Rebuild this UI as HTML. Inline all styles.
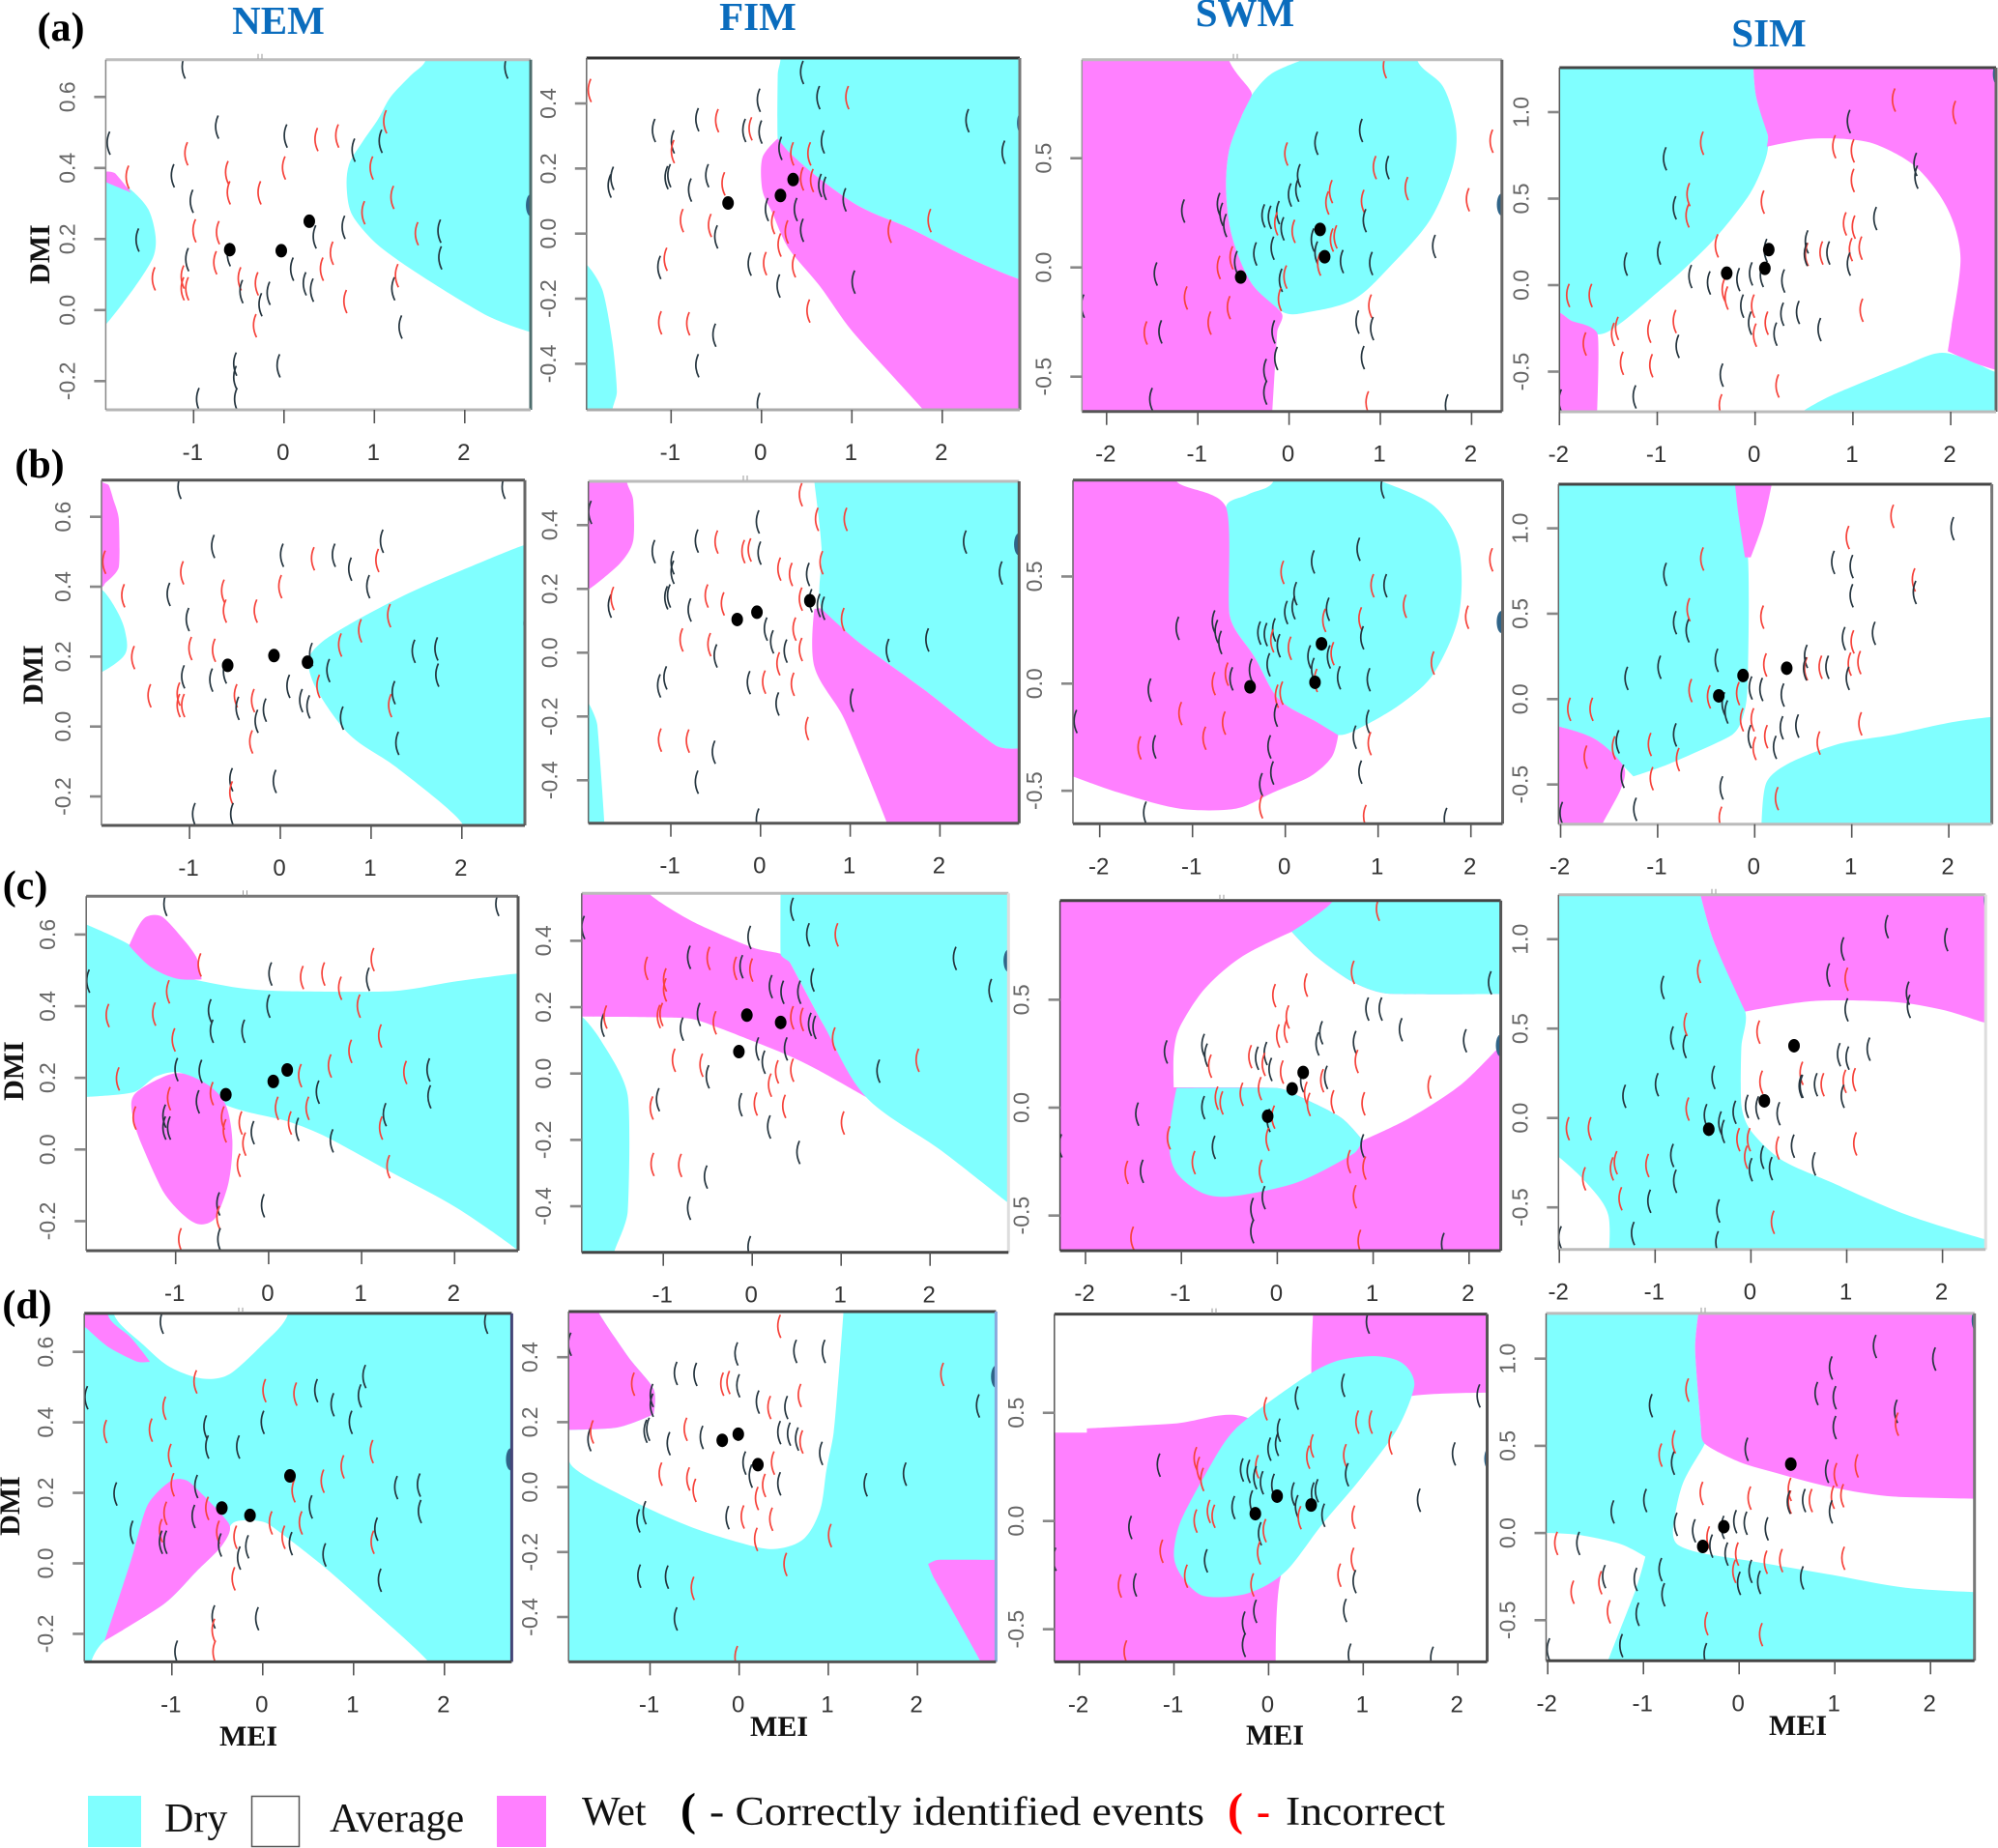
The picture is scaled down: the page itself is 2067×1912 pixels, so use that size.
<!DOCTYPE html>
<html>
<head>
<meta charset="utf-8">
<title>Dry, average and wet classification maps by MEI and DMI</title>
<style>
html,body{margin:0;padding:0;background:#fff;width:2067px;height:1912px;overflow:hidden}
svg{display:block}
.tick{font-family:"Liberation Sans",sans-serif;font-size:24px;fill:#333}
.ytick{font-family:"Liberation Sans",sans-serif;font-size:23px;fill:#666}
.axt{font-family:"Liberation Serif",serif;font-weight:bold;font-size:30px;fill:#111}
.col{font-family:"Liberation Serif",serif;font-weight:bold;font-size:41px;fill:#0a6cbd}
.row{font-family:"Liberation Serif",serif;font-weight:bold;font-size:42px;fill:#000}
.leg{font-family:"Liberation Serif",serif;font-size:42px;fill:#111}
</style>
</head>
<body>
<svg id="figure" xmlns="http://www.w3.org/2000/svg" width="2067" height="1912" viewBox="0 0 2067 1912">
  <rect width="2067" height="1912" fill="#fff"/>
  <text class="col" x="288" y="35" text-anchor="middle">NEM</text>
  <text class="col" x="784" y="31" text-anchor="middle">FIM</text>
  <text class="col" x="1288" y="27" text-anchor="middle">SWM</text>
  <text class="col" x="1830" y="48" text-anchor="middle">SIM</text>
  <text class="row" x="63" y="42" text-anchor="middle">(a)</text>
  <text class="row" x="41" y="494" text-anchor="middle">(b)</text>
  <text class="row" x="26" y="930" text-anchor="middle">(c)</text>
  <text class="row" x="28" y="1364" text-anchor="middle">(d)</text>
  <text class="axt" text-anchor="middle" transform="translate(51 263) rotate(-90)">DMI</text>
  <text class="axt" text-anchor="middle" transform="translate(44 698) rotate(-90)">DMI</text>
  <text class="axt" text-anchor="middle" transform="translate(24 1108) rotate(-90)">DMI</text>
  <text class="axt" text-anchor="middle" transform="translate(20 1558) rotate(-90)">DMI</text>
  <text class="axt" x="257" y="1806" text-anchor="middle">MEI</text>
  <text class="axt" x="806" y="1796" text-anchor="middle">MEI</text>
  <text class="axt" x="1319" y="1805" text-anchor="middle">MEI</text>
  <text class="axt" x="1860" y="1795" text-anchor="middle">MEI</text>
  <g id="panels"></g>
  <g>
    <rect x="91" y="1858" width="55" height="53" fill="#80ffff"/>
    <text class="leg" x="170" y="1895">Dry</text>
    <rect x="260.500" y="1858.500" width="49" height="52" fill="#fff" stroke="#555" stroke-width="1.500"/>
    <text class="leg" x="341" y="1895">Average</text>
    <rect x="514" y="1858" width="51" height="53" fill="#ff80ff"/>
    <text class="leg" x="602" y="1888">Wet</text>
    <text class="leg" x="704" y="1888" style="font-size:48px;font-weight:bold;fill:#000">(</text>
    <text class="leg" x="734" y="1888" textLength="512" lengthAdjust="spacingAndGlyphs">- Correctly identified events</text>
    <text class="leg" x="1270" y="1888" style="font-size:48px;font-weight:bold;fill:#f00">(</text>
    <text class="leg" x="1300" y="1888" style="font-weight:bold;fill:#f00">-</text>
    <text class="leg" x="1330" y="1888" textLength="165" lengthAdjust="spacingAndGlyphs">Incorrect</text>
  </g>
</svg>
<script>
// ---------- event values: MEI and DMI per season ----------
const nemMei = [-1.12,2.45,-.75,-1.95,.01,.35,.58,1.11,1.06,.76,-1.09,-.01,.96,-1.74,-1.24,-.64,-.62,-.28,-1.03,1.19,.87,-1.0,-.74,-1.63,.65,.33,1.46,1.71,1.72,.52,-1.08,-.77,-.62,.08,.41,-1.45,-1.13,-1.08,-1.13,-.5,-.48,-.31,-.18,-.27,.22,.3,1.2,1.24,.67,-.33,1.28,-.55,-.07,-.55,-.96,-.54];
const nemDmi = [.684,.684,.515,.47,.49,.48,.49,.53,.475,.45,.44,.40,.40,.374,.378,.387,.33,.33,.306,.317,.274,.223,.218,.197,.233,.206,.215,.222,.147,.16,.142,.133,.156,.115,.115,.088,.093,.06,.06,.088,.052,.074,.047,.015,.074,.056,.06,.097,.024,-.044,-.048,-.152,-.157,-.19,-.252,-.252];
const fimMei = [-1.91,.44,.62,.94,-.04,2.27,-.72,-.5,-1.2,-.99,-.99,-.2,-.13,-.02,.67,2.67,.2,.33,.52,-1.69,-1.03,-1.06,-.61,-.43,-.8,.44,.55,.64,.69,.91,.05,.12,.37,-.89,-.58,-.51,.27,.44,.19,1.41,1.85,-1.07,-1.14,-.14,.03,.35,.18,1.01,.51,-1.13,-.82,-.53,-.72,-.04,-1.66];
const fimDmi = [.44,.495,.418,.418,.41,.347,.35,.347,.317,.282,.252,.317,.322,.312,.282,.25,.262,.245,.245,.146,.178,.172,.178,.153,.134,.168,.163,.148,.139,.104,.074,.034,.074,.04,.025,-.01,.005,.01,-.035,.007,.04,-.079,-.104,-.094,-.092,-.099,-.161,-.149,-.238,-.274,-.277,-.312,-.406,-.525,.17];
const swmMei = [1.04,2.21,.78,.29,-.04,.93,1.07,.1,1.28,1.95,.08,0,.45,.41,.8,.82,-1.17,-.78,-.75,-.71,-.29,-.22,-.13,-.08,.04,-.15,.25,.5,.46,-.38,-.19,.29,.32,.57,.89,1.58,-.64,-.59,-1.47,-.78,-.05,-.1,-1.14,-.67,-.11,-2.27,.88,-.88,-1.58,-1.42,-.18,.74,.9,-.15,.8,-.27,-.27,-1.52,.85,1.72];
const swmDmi = [.919,.578,.627,.568,.519,.457,.457,.42,.361,.31,.354,.332,.347,.295,.302,.214,.258,.288,.243,.192,.236,.229,.251,.177,.165,.2,.125,.14,.125,.062,.088,.066,.015,.027,.018,.096,.044,.022,-.03,0,-.044,-.059,-.14,-.184,-.147,-.177,-.177,-.255,-.3,-.295,-.295,-.25,-.28,-.417,-.413,-.472,-.575,-.605,-.62,-.634];
const simMei = [1.41,2.03,.95,-.55,-.93,.8,.99,1.63,1.64,.99,-.69,.07,-.83,-.7,1.22,.91,1,-.4,-.99,-1.33,.52,.52,.51,.67,.74,.97,1.07,.95,-.67,-.48,-.18,-.05,.06,.28,-.33,-.3,-.14,-.03,.27,.43,1.08,-.06,.11,-.01,.2,.65,-.83,-1.09,-1.42,-1.46,-1.92,-1.69,-1.75,-.8,-1.37,-1.07,-.35,.22,-1.24,-.36,-2,.1];
const simDmi = [1.07,.998,.946,.82,.73,.8,.776,.698,.624,.605,.523,.48,.447,.4,.385,.354,.335,.227,.186,.121,.25,.177,.177,.186,.186,.205,.214,.121,.05,.013,.032,.065,.056,.024,-.028,-.075,-.121,-.121,-.168,-.158,-.145,-.22,-.22,-.289,-.283,-.257,-.21,-.266,-.25,-.285,-.06,-.06,-.34,-.354,-.452,-.466,-.52,-.583,-.646,-.698,-.67,.2];

// ---------- outcome per event: k = correctly identified, r = incorrect ----------
const nemOutcomeA = "kkkkkrrrkkrrrrkrrrkrrrrkkkrkkrkrkkrrrrrrkrkkkkkrrrkkkkkk";
const nemOutcomeB = "kkkrkrkkrkrrkrkrrrkrrrrrrkkkkkkkkkrrrrrrkrkkkkrkkrkkkrkk";
const nemOutcomeC = "kkrkkrrrkrrkrrrkkkrrrkkrrrrkkkrkrrrrkkkrrrkrrkrkkrrkkrrk";
const nemOutcomeD = "kkrkrrkkkkrkkrrkkkrrrrkkrrkkkkrkrrrkrkkrkrkkrkrkkrkkkrkr";
const fimOutcomeA = "rkkrkkkrkkrkrkkkkrrkkkkrkrrkkkkrkrrkrkrrrrkkrrkkrrrkkkk";
const fimOutcomeB = "krrrkkkrkkkrrkrkrrkkkkrrkrkkkrkkrrrkkrrkkkkkrrkkrrrkkkr";
const fimOutcomeC = "kkkrkkkrrrrrkrkkkkkkrrkrkrrkkrkkkrrkrrrkrkrkrrkrkrrkkkr";
const fimOutcomeD = "krkkkrkkrkkrrkrkkrkkkkrkkkkkrkkkrrrrrkrkkkkkrrrrrkkrkrr";
const swmOutcomeA = "rrkkrrkkrrkkrrrkkkkkkkkkrrkrrkkkrkkkrkkrrkrrrkrrrkkkkkkkkkrk";
const swmOutcomeB = "krkkrrkkrrkkkrrkkkkkkkkkrrkrkkkkrkkrrkkrrrrrkkkrrkkkrkkkrkrk";
const swmOutcomeC = "rkrrrkkrkkrrkkkrkkkrrkkkrrkkrrrrrrrrrrkkrkrkrkkrrkrrrkrkkrrk";
const swmOutcomeD = "kkkkrrrkrkkkrrrkkrrrkkrkkkkkkkkkrkrkrrkrrkrkrkrrrkrrkkkkkrkk";
const simOutcomeA = "rrkrkrrkkrrrkrkrrrkkkrkrkrrkkkkkkkrrkrkkrkrrkkrrrrrrrkrrkrkrkk";
const simOutcomeB = "rkrrkkkrkkrrkkkkrkkkkrkrkrrkrrrkkkkkrrkkrkrrkrkrkrrrrrkrkrkrkr";
const simOutcomeC = "kkkrkkrkkkrrkkkkkkkkrkkkrrrkrkkkkkkkrrrkrrkkkkkrrrrrrkrkkrkkkr";
const simOutcomeD = "kkkrkkkkrkrkrkrkrrkkrrkkrrrkkkkkkkrkkrrrrrkkkkkkkrrkrkrkrrkkkr";

// ---------- tick values per season ----------
const nemXTicks = [-1,0,1,2];
const fimXTicks = [-1,0,1,2];
const swmXTicks = [-2,-1,0,1,2];
const simXTicks = [-2,-1,0,1,2];
const nemYTicks = [.6,.4,.2,0,-.2];
const fimYTicks = [.4,.2,0,-.2,-.4];
const swmYTicks = [.5,0,-.5];
const simYTicks = [1,.5,0,-.5];

// ---------- outlier event on the plot edge ----------
const nemEdgeEvent = [2.73,.295];
const fimEdgeEvent = [2.88,.34];
const swmEdgeEvent = [2.33,.288];
const simEdgeEvent = [2.48,1.22];

// ---------- highlighted events per panel (MEI, DMI pairs) ----------
const nemDotsA = [-.6,.17,-.03,.167,.28,.25];
const nemDotsB = [-.58,.175,-.07,.203,.3,.184];
const nemDotsC = [-.46,.153,.05,.19,.2,.222];
const nemDotsD = [-.45,.157,-.14,.136,.3,.248];
const fimDotsA = [-.37,.094,.21,.117,.35,.166];
const fimDotsB = [-.26,.104,-.04,.127,.55,.163];
const fimDotsC = [-.15,.066,-.06,.176,.32,.154];
const fimDotsD = [-.19,.144,-.01,.163,.21,.069];
const swmDotsA = [.34,.174,.39,.049,-.53,-.044];
const swmDotsB = [.39,.186,.32,.006,-.38,-.015];
const swmDotsC = [.27,.163,.155,.087,-.1,-.04];
const swmDotsD = [.09,.115,.45,.074,-.14,.034];
const simDotsA = [-.29,.069,.1,.097,.14,.205];
const simDotsB = [-.37,.019,-.12,.138,.33,.181];
const simDotsC = [-.44,-.063,.14,.096,.45,.404];
const simDotsD = [-.38,-.077,-.16,.036,.54,.395];

// ---------- class regions, MEI/DMI boundary vertices ----------
const nemRegionsA = [
 ["dry",[1.57,.8,1.57,.705,1.4,.66,1.18,.6,1.04,.537,.87,.474,.72,.41,.695,.338,.76,.265,1.04,.183,1.54,.093,2.25,-.016,2.73,-.062,3,-.062,3,.8]],
 ["dry",[-2.1,.39,-1.85,.36,-1.69,.338,-1.5,.283,-1.42,.206,-1.45,.147,-1.65,.065,-1.97,-.04,-2.1,-.04]],
 ["wet",[-1.97,.39,-1.87,.385,-1.69,.33,-1.97,.36]]];
const nemRegionsB = [
 ["dry",[.31,.189,.47,.244,.84,.304,1.42,.382,2,.447,2.7,.52,3,.52,3,-.4,2,-.4,2,-.276,1.27,-.115,.76,-.023,.4,.106]],
 ["dry",[-2.1,.39,-1.96,.39,-1.81,.336,-1.71,.272,-1.71,.207,-1.96,.157,-2.1,.157]],
 ["wet",[-2.1,.8,-1.96,.7,-1.89,.69,-1.84,.65,-1.78,.594,-1.78,.456,-1.93,.41,-1.96,.40,-2.1,.4]]];
const nemRegionsC = [
 ["dry",[-2.1,.64,-1.96,.628,-1.48,.569,-1.13,.493,-.78,.473,-.29,.45,.2,.442,1.33,.442,2.03,.47,2.68,.491,3,.491,3,-.35,2.68,-.281,2.03,-.164,1.33,-.065,.63,.034,.2,.079,-.46,.124,-.92,.212,-1.2,.205,-1.45,.16,-1.94,.147,-2.1,.147]],
 ["wet",[-1.31,.65,-1.15,.65,-.96,.6,-.78,.538,-.72,.475,-.99,.477,-1.27,.51,-1.5,.569,-1.41,.619]],
 ["wet",[-1.45,.151,-1.13,.203,-.92,.212,-.64,.178,-.46,.124,-.39,.025,-.43,-.092,-.57,-.19,-.74,-.209,-.92,-.182,-1.13,-.119,-1.34,-.002,-1.45,.079]]];
const nemRegionsD = [
 ["dry",[-2.1,.8,3,.8,3,-.4,-2.1,-.4]],
 ["avg",[-1.63,.8,-1.63,.702,-1.31,.619,-1.02,.557,-.66,.524,-.37,.536,-.01,.619,.27,.702,.27,.8]],
 ["avg",[-1.9,-.4,-1.9,-.29,-1.74,-.22,-1.09,-.116,-.73,-.023,-.45,.05,-.34,.112,-.16,.122,.06,.112,.63,0,1.14,-.116,1.86,-.29,1.9,-.4]],
 ["wet",[-1.74,-.22,-1.45,.008,-1.27,.164,-1.01,.234,-.81,.231,-.37,.112,-.45,.05,-.73,-.023,-1.09,-.116]],
 ["wet",[-2.1,.8,-1.7,.8,-1.7,.702,-1.45,.64,-1.24,.572,-1.38,.572,-1.7,.614,-1.96,.671,-2.1,.68]]];
const fimRegionsA = [
 ["dry",[.21,.6,.21,.535,.18,.49,.18,.292,.3,.252,.58,.183,1.08,.084,1.65,.015,2.21,-.064,2.7,-.124,3,-.155,3,.6]],
 ["wet",[.18,.292,.01,.233,.01,.134,.12,.064,.3,-.045,.65,-.163,1.01,-.302,1.79,-.542,1.8,-.6,3,-.6,3,-.155,2.7,-.124,2.21,-.064,1.65,.015,1.08,.084,.58,.183,.3,.252]],
 ["dry",[-2.1,-.094,-1.94,-.094,-1.76,-.173,-1.65,-.332,-1.6,-.485,-1.65,-.542,-1.65,-.6,-2.1,-.6]]];
const fimRegionsB = [
 ["dry",[.6,.6,.6,.536,.68,.329,.68,.137,1.08,.036,1.82,-.115,2.63,-.292,3,-.297,3,.6]],
 ["wet",[.6,.137,.6,-.044,.93,-.206,1.41,-.534,1.42,-.6,3,-.6,3,-.297,2.63,-.292,1.82,-.115,1.08,.036,.68,.137]],
 ["wet",[-2.1,.6,-1.49,.6,-1.49,.536,-1.42,.48,-1.42,.35,-1.57,.279,-1.92,.198,-2.1,.198]],
 ["dry",[-2.1,-.156,-1.92,-.156,-1.82,-.226,-1.74,-.534,-1.74,-.6,-2.1,-.6]]];
const fimRegionsC = [
 ["wet",[-2.1,.6,-1.15,.6,-1.15,.54,-.67,.458,0,.38,.32,.361,.43,.332,.8,.148,1.28,-.071,.73,.012,.36,.06,-.38,.138,-.74,.167,-1.92,.172,-2.1,.172]],
 ["dry",[.32,.6,.32,.361,.43,.332,.8,.148,1.28,-.071,2.12,-.231,2.86,-.386,3,-.4,3,.6]],
 ["dry",[-2.1,.172,-1.92,.172,-1.7,.099,-1.4,-.066,-1.4,-.416,-1.55,-.537,-1.55,-.6,-2.1,-.6]]];
const fimRegionsD = [
 ["dry",[-2.1,.6,3,.6,3,-.6,-2.1,-.6]],
 ["avg",[-1.58,.6,1.17,.6,1.17,.54,1.12,.358,1.06,.167,.98,.055,.91,-.069,.73,-.158,.43,-.19,.14,-.181,-.52,-.125,-1.25,-.035,-1.88,.066,-1.92,.176,-1.36,.184,-.96,.224,-.96,.302,-1.25,.403,-1.58,.54]],
 ["wet",[-2.1,.6,-1.58,.6,-1.58,.54,-1.25,.403,-.96,.302,-.96,.224,-1.36,.184,-1.92,.176,-2.1,.176]],
 ["wet",[2.23,-.224,3,-.224,3,-.6,2.71,-.6,2.71,-.538,2.19,-.282,2.12,-.237]]];
const swmRegionsA = [
 ["dry",[.11,1.1,1.41,1.1,1.41,.944,1.69,.826,1.83,.634,1.79,.457,1.55,.221,1.13,.015,.71,-.147,.22,-.204,-.06,-.206,-.41,-.074,-.62,.133,-.69,.339,-.66,.531,-.52,.693,-.41,.789,-.2,.885,.11,.944]],
 ["wet",[-2.4,1.1,-.66,1.1,-.66,.951,-.45,.826,-.41,.789,-.52,.693,-.66,.531,-.69,.339,-.62,.133,-.41,-.074,-.08,-.21,-.13,-.295,-.19,-.7,-2.4,-.7]]];
const swmRegionsB = [
 ["dry",[-.13,1.1,1.04,1.1,1.04,.943,1.6,.83,1.87,.635,1.87,.319,1.6,.048,1.27,-.087,.87,-.192,.57,-.24,.33,-.177,-.07,-.072,-.33,.123,-.6,.319,-.64,.823,-.4,.883,-.13,.943]],
 ["wet",[-2.4,1.1,-1.17,1.1,-1.17,.943,-.64,.823,-.6,.319,-.33,.123,-.07,-.072,.33,-.177,.57,-.24,.5,-.343,.27,-.433,-.13,-.508,-.53,-.583,-1.14,-.583,-1.8,-.508,-2.29,-.433,-2.4,-.433]]];
const swmRegionsC = [
 ["wet",[-2.4,1.1,2.5,1.1,2.5,-.8,-2.4,-.8]],
 ["avg",[.15,.815,.41,.699,.8,.579,1.18,.527,2.5,.527,2.5,.2,2.28,.266,1.9,.101,1.38,-.048,.89,-.152,.67,-.048,.28,.042,0,.091,-1.08,.094,-1.08,.25,-1.02,.37,-.76,.549,-.37,.699]],
 ["dry",[.58,1.1,2.5,1.1,2.5,.527,1.18,.527,.8,.579,.41,.699,.15,.815,.58,.957]],
 ["dry",[-1.05,.091,0,.091,.28,.042,.67,-.048,.89,-.152,.8,-.212,.21,-.346,-.43,-.409,-.76,-.399,-1.05,-.301,-1.13,-.167,-1.09,-.003]]];
const swmRegionsD = [
 ["wet",[.5,1.1,2.5,1.1,2.5,.594,1.55,.58,.8,.5,.47,.6,.47,.96]],
 ["wet",[-2.4,.408,-1.92,.408,-1.92,.428,-1,.45,-.22,.476,.4,.2,.11,-.3,.08,-.8,-2.4,-.8]],
 ["dry",[1.13,.762,1.42,.728,1.54,.627,1.36,.425,.96,.189,.57,-.013,.18,-.233,-.22,-.334,-.68,-.347,-.9,-.266,-1,-.165,-.94,-.013,-.68,.206,-.35,.425,.31,.644,.7,.737]]];
const simRegionsA = [
 ["dry",[-2.1,1.3,-.02,1.3,.01,1.09,.13,.866,.11,.735,-.05,.531,-.38,.289,-.71,.102,-.97,-.028,-1.36,-.214,-1.61,-.285,-1.88,-.205,-2,-.158,-2.1,-.158]],
 ["wet",[-.02,1.3,2.7,1.3,2.7,-.53,2.27,-.456,1.97,-.382,2.01,-.233,2.1,.158,1.97,.438,1.65,.68,1.25,.81,.93,.844,.54,.844,.12,.8,.13,.866,.01,1.09]],
 ["wet",[-2.1,-.158,-2,-.158,-1.88,-.205,-1.61,-.285,-1.62,-.8,-2.1,-.8]],
 ["dry",[.49,-.8,.49,-.73,.8,-.633,1.52,-.466,1.91,-.391,2.27,-.456,2.46,-.503,2.7,-.53,2.7,-.8]]];
const simRegionsB = [
 ["dry",[-2.1,1.3,-.21,1.3,-.07,.83,-.07,.15,-.1,-.057,-.23,-.208,-.87,-.377,-1.25,-.453,-1.38,-.377,-1.64,-.236,-2.02,-.16,-2.1,-.16]],
 ["wet",[-.21,1.3,.19,1.3,.09,1.038,-.04,.83,-.1,.83,-.17,1.09]],
 ["wet",[-2.1,-.16,-2.02,-.16,-1.64,-.236,-1.35,-.396,-1.38,-.528,-1.57,-.732,-1.57,-.8,-2.1,-.8]],
 ["dry",[.07,-.8,.07,-.732,.12,-.49,.35,-.377,.86,-.264,1.43,-.208,2.07,-.132,2.7,-.09,2.7,-.8]]];
const simRegionsC = [
 ["dry",[-2.1,1.3,-.55,1.3,-.39,.991,-.06,.595,-.1,.396,-.1,.072,0,-.072,.32,-.234,.84,-.36,1.62,-.54,2.43,-.676,2.7,-.7,2.7,-.8,-1.49,-.8,-1.49,-.54,-1.72,-.36,-2.01,-.216,-2.1,-.216]],
 ["wet",[-.55,1.3,2.7,1.3,2.7,.532,2.45,.532,2.01,.604,1.49,.649,.65,.654,-.06,.595,-.39,.991]]];
const simRegionsD = [
 ["dry",[-2.1,1.3,-.415,1.3,-.46,1.056,-.4,.617,-.36,.513,-.59,.282,-.69,.031,-.65,-.063,-.4,-.115,.19,-.167,.97,-.24,1.74,-.314,2.7,-.345,2.7,-.8,-1.37,-.8,-1.37,-.732,-1.08,-.324,-.98,-.136,-1.24,-.063,-1.69,-.01,-2.1,0]],
 ["wet",[-.415,1.3,2.7,1.3,2.7,.195,1.61,.209,.97,.262,.45,.335,0,.408,-.36,.513,-.4,.617,-.46,1.056]]];

// ---------- page layout, separate from the data ----------
const seasons = {
  nem:{mei:nemMei,dmi:nemDmi,xt:nemXTicks,yt:nemYTicks,edge:nemEdgeEvent},
  fim:{mei:fimMei,dmi:fimDmi,xt:fimXTicks,yt:fimYTicks,edge:fimEdgeEvent},
  swm:{mei:swmMei,dmi:swmDmi,xt:swmXTicks,yt:swmYTicks,edge:swmEdgeEvent},
  sim:{mei:simMei,dmi:simDmi,xt:simXTicks,yt:simYTicks,edge:simEdgeEvent}
};
const panels = [
 {id:"a-nem",s:"nem",box:[109.4,549,61.7,424],x0:293.8,xu:93.5,y0:320.8,yu:367.5,o:nemOutcomeA,d:nemDotsA,r:nemRegionsA,b:["#bdbdbd","#4d6d6d","#b5b5b5","#888"],nick:269},
 {id:"a-fim",s:"fim",box:[606.8,1055,60,424],x0:787.8,xu:93.5,y0:241.7,yu:336.7,o:fimOutcomeA,d:fimDotsA,r:fimRegionsA,b:["#333","#777","#aaa","#666"]},
 {id:"a-swm",s:"swm",box:[1119.3,1553.8,61.7,425.7],x0:1333.6,xu:94.4,y0:276.7,yu:226,o:swmOutcomeA,d:swmDotsA,r:swmRegionsA,b:["#bbb","#666","#555","#999"],nick:1278},
 {id:"a-sim",s:"sim",box:[1613.3,2065,70,426],x0:1815.7,xu:101.2,y0:295,yu:179,o:simOutcomeA,d:simDotsA,r:simRegionsA,b:["#444","#666","#bbb","#555"]},
 {id:"b-nem",s:"nem",box:[105,543,496.7,854],x0:290,xu:93.9,y0:751.7,yu:361.7,o:nemOutcomeB,d:nemDotsB,r:nemRegionsB,b:["#555","#666","#555","#777"]},
 {id:"b-fim",s:"fim",box:[608.7,1054.3,498,851.7],x0:786.8,xu:92.8,y0:675.3,yu:330,o:fimOutcomeB,d:fimDotsB,r:fimRegionsB,b:["#bbb","#555","#555","#666"],nick:771},
 {id:"b-swm",s:"swm",box:[1110,1554.5,496.7,852.3],x0:1329.7,xu:96,y0:707.3,yu:221.7,o:swmOutcomeB,d:swmDotsB,r:swmRegionsB,b:["#555","#666","#555","#666"]},
 {id:"b-sim",s:"sim",box:[1612.3,2060.6,501,852.7],x0:1815.3,xu:100.4,y0:723.3,yu:176.7,o:simOutcomeB,d:simDotsB,r:simRegionsB,b:["#444","#777","#bbb","#666"]},
 {id:"c-nem",s:"nem",box:[89.2,536,927.3,1294],x0:277.9,xu:96.2,y0:1189.3,yu:370.7,o:nemOutcomeC,d:nemDotsC,r:nemRegionsC,b:["#777","#555","#555","#666"],nick:253.5},
 {id:"c-fim",s:"fim",box:[601.8,1043.3,924.3,1295.7],x0:778.2,xu:92,y0:1110.7,yu:343.3,o:fimOutcomeC,d:fimDotsC,r:fimRegionsC,b:["#bbb","#ddd","#444","#666"]},
 {id:"c-swm",s:"swm",box:[1096.6,1552.6,931.7,1294],x0:1321.4,xu:99.2,y0:1146,yu:223.3,o:swmOutcomeC,d:swmDotsC,r:swmRegionsC,b:["#444","#555","#444","#444"],nick:1264},
 {id:"c-sim",s:"sim",box:[1612.3,2054.2,925.7,1292.7],x0:1811.4,xu:99.1,y0:1156.7,yu:185,o:simOutcomeC,d:simDotsC,r:simRegionsC,b:["#bbb","#ddd","#bbb","#666"],nick:1773},
 {id:"d-nem",s:"nem",box:[87.2,529.4,1358.9,1719.4],x0:271.8,xu:94,y0:1617.5,yu:364.7,o:nemOutcomeD,d:nemDotsD,r:nemRegionsD,b:["#444","#447","#444","#666"],nick:249},
 {id:"d-fim",s:"fim",box:[588.2,1030.4,1357,1719.4],x0:764.7,xu:92.2,y0:1538.6,yu:336,o:fimOutcomeD,d:fimDotsD,r:fimRegionsD,b:["#444","#8ad","#555","#666"]},
 {id:"d-swm",s:"swm",box:[1090.8,1538.5,1359.6,1719.4],x0:1312.4,xu:97.9,y0:1573.7,yu:223.9,o:swmOutcomeD,d:swmDotsD,r:swmRegionsD,b:["#444","#555","#444","#555"],nick:1256},
 {id:"d-sim",s:"sim",box:[1599.5,2042.7,1358.9,1718.3],x0:1799.2,xu:99,y0:1586.1,yu:180.4,o:simOutcomeD,d:simDotsD,r:simRegionsD,b:["#bbb","#777","#444","#666"],nick:1762}
];

const NS = "http://www.w3.org/2000/svg";
const regionFill = {dry:"#80ffff",wet:"#ff80ff",avg:"#ffffff"};
const root = document.getElementById("panels");

function make(parent, tag, props){
  const el = document.createElementNS(NS, tag);
  for (const k in props) el.setAttribute(k, props[k]);
  parent.appendChild(el);
  return el;
}

// Closed curve through boundary vertices; sharp turns stay as corners.
function smoothBoundary(pts){
  const n = pts.length;
  const handles = pts.map(function(cur, i){
    const prev = pts[(i + n - 1) % n], next = pts[(i + 1) % n];
    const ax = cur[0] - prev[0], ay = cur[1] - prev[1];
    const bx = next[0] - cur[0], by = next[1] - cur[1];
    const la = Math.hypot(ax, ay) || 1, lb = Math.hypot(bx, by) || 1;
    const turn = Math.acos(Math.max(-1, Math.min(1, (ax * bx + ay * by) / (la * lb))));
    if (turn > 1.1) return [0, 0];
    const tx = next[0] - prev[0], ty = next[1] - prev[1];
    const lt = Math.hypot(tx, ty) || 1;
    const h = 0.33 * Math.min(la, lb);
    return [tx / lt * h, ty / lt * h];
  });
  let d = "M" + pts[0][0].toFixed(1) + " " + pts[0][1].toFixed(1);
  for (let i = 0; i < n; i++){
    const j = (i + 1) % n;
    d += "C" + (pts[i][0] + handles[i][0]).toFixed(1) + " " + (pts[i][1] + handles[i][1]).toFixed(1) +
         " " + (pts[j][0] - handles[j][0]).toFixed(1) + " " + (pts[j][1] - handles[j][1]).toFixed(1) +
         " " + pts[j][0].toFixed(1) + " " + pts[j][1].toFixed(1);
  }
  return d + "Z";
}

panels.forEach(function(p){
  const season = seasons[p.s];
  const L = p.box[0], R = p.box[1], T = p.box[2], B = p.box[3];
  const sx = function(v){ return p.x0 + v * p.xu; };
  const sy = function(v){ return p.y0 - v * p.yu; };

  const g = make(root, "g", {});
  
  

  const clip = make(g, "clipPath", {id:"clip-" + p.id});
  make(clip, "rect", {x:L, y:T, width:R-L, height:B-T});

  const plot = make(g, "g", {"clip-path":"url(#clip-" + p.id + ")"});
  
  

  const bg = make(plot, "rect", {x:L, y:T, width:R-L, height:B-T, fill:"#fff"});
  
  

  p.r.forEach(function(region){
    const cls = region[0], v = region[1];
    const pts = [];
    for (let i = 0; i + 1 < v.length; i += 2) pts.push([sx(v[i]), sy(v[i+1])]);
    const shape = make(plot, "path", {d:smoothBoundary(pts), fill:regionFill[cls]});
    
    
  });

  const count = Math.min(season.mei.length, season.dmi.length);
  for (let i = 0; i < count; i++){
    const x = sx(season.mei[i]), y = sy(season.dmi[i]);
    const bad = p.o.charAt(i) === "r";
    const d = "M" + (x+2).toFixed(1) + " " + (y-12).toFixed(1) +
              "Q" + (x-3.5).toFixed(1) + " " + y.toFixed(1) + " " + (x+2.5).toFixed(1) + " " + (y+12).toFixed(1);
    const mark = make(plot, "path", {d:d, fill:"none", stroke:bad ? "#f6423a" : "#24343e", "stroke-width":1.7});
    
    
  }

  const edge = make(plot, "ellipse", {cx:sx(season.edge[0]), cy:sy(season.edge[1]), rx:5, ry:11.5, fill:"#2f6488"});
  
  

  for (let i = 0; i + 1 < p.d.length; i += 2){
    const dot = make(plot, "ellipse", {cx:sx(p.d[i]), cy:sy(p.d[i+1]), rx:6, ry:7, fill:"#000"});
    
    
  }

  const sides = [[L,T,R,T],[R,T,R,B],[L,B,R,B],[L,T,L,B]];
  const sideNames = ['frame-top','frame-right','frame-bottom','frame-left'];
  sides.forEach(function(c, i){
    const line = make(g, "line", {x1:c[0], y1:c[1], x2:c[2], y2:c[3], stroke:p.b[i], "stroke-width":i === 3 ? 1.5 : 3});
    
    
  });

  if (p.nick){
    const nick = make(g, "path", {d:"M" + (p.nick-2) + " " + (T-6) + "v5M" + (p.nick+2) + " " + (T-6) + "v5", stroke:"#999", "stroke-width":1, fill:"none"});
    
    
  }

  season.xt.forEach(function(v){
    const x = sx(v);
    const tick = make(g, "line", {x1:x, y1:B, x2:x, y2:B+14, stroke:"#555", "stroke-width":1.6});
    
    
    const label = make(g, "text", {x:x-1, y:B+52, "text-anchor":"middle", "class":"tick"});
    
    
    label.textContent = String(v);
  });

  season.yt.forEach(function(v){
    const y = sy(v);
    const tick = make(g, "line", {x1:L-12, y1:y, x2:L, y2:y, stroke:"#888", "stroke-width":2.6});
    
    
    const label = make(g, "text", {transform:"translate(" + (L-32) + " " + y + ") rotate(-90)", "text-anchor":"middle", "class":"ytick"});
    
    
    label.textContent = v.toFixed(1);
  });
});
</script>
</body>
</html>
